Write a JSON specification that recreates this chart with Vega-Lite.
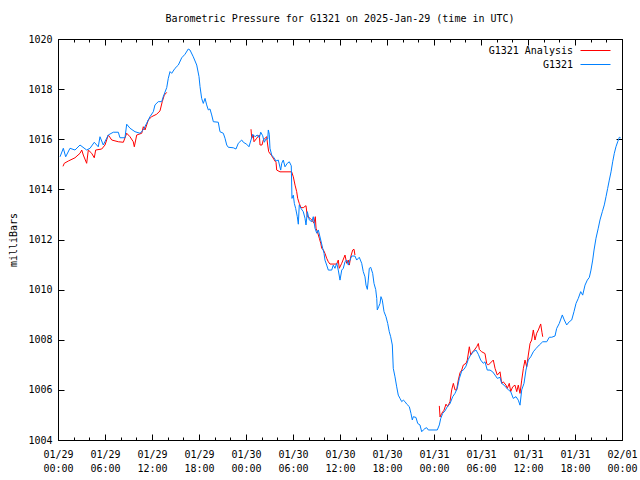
{
  "$schema": "https://vega.github.io/schema/vega-lite/v6.json",
  "width": 564,
  "height": 401,
  "autosize": {"type": "none"},
  "padding": {"left": 58, "top": 39, "right": 18, "bottom": 40},
  "background": "white",
  "title": {"text": "Barometric Pressure for G1321 on 2025-Jan-29 (time in UTC)", "font": "DejaVu Sans Mono", "fontSize": 10, "fontWeight": "normal", "color": "black", "anchor": "middle", "offset": 10},
  "config": {
    "view": {"stroke": "black", "strokeWidth": 1},
    "axis": {"grid": false, "domain": false, "tickColor": "black", "tickWidth": 1, "labelColor": "black", "labelFont": "DejaVu Sans Mono", "labelFontSize": 10, "titleFont": "DejaVu Sans Mono", "titleFontSize": 10, "titleFontWeight": "normal", "titleColor": "black"}
  },
  "data": {"values": [
    {"series":"G1321 Analysis","seg":"an1","t":0.64,"mb":1014.92},
    {"series":"G1321 Analysis","seg":"an1","t":0.80,"mb":1015.04},
    {"series":"G1321 Analysis","seg":"an1","t":1.31,"mb":1015.13},
    {"series":"G1321 Analysis","seg":"an1","t":2.17,"mb":1015.26},
    {"series":"G1321 Analysis","seg":"an1","t":2.81,"mb":1015.44},
    {"series":"G1321 Analysis","seg":"an1","t":3.03,"mb":1015.57},
    {"series":"G1321 Analysis","seg":"an1","t":3.23,"mb":1015.37},
    {"series":"G1321 Analysis","seg":"an1","t":3.66,"mb":1015.04},
    {"series":"G1321 Analysis","seg":"an1","t":3.87,"mb":1015.57},
    {"series":"G1321 Analysis","seg":"an1","t":4.30,"mb":1015.44},
    {"series":"G1321 Analysis","seg":"an1","t":4.63,"mb":1015.26},
    {"series":"G1321 Analysis","seg":"an1","t":4.81,"mb":1015.57},
    {"series":"G1321 Analysis","seg":"an1","t":5.58,"mb":1015.61},
    {"series":"G1321 Analysis","seg":"an1","t":6.00,"mb":1015.77},
    {"series":"G1321 Analysis","seg":"an1","t":6.42,"mb":1016.17},
    {"series":"G1321 Analysis","seg":"an1","t":6.86,"mb":1015.97},
    {"series":"G1321 Analysis","seg":"an1","t":7.70,"mb":1015.90},
    {"series":"G1321 Analysis","seg":"an1","t":8.34,"mb":1015.88},
    {"series":"G1321 Analysis","seg":"an1","t":8.77,"mb":1016.24},
    {"series":"G1321 Analysis","seg":"an1","t":9.19,"mb":1016.10},
    {"series":"G1321 Analysis","seg":"an1","t":9.61,"mb":1015.90},
    {"series":"G1321 Analysis","seg":"an1","t":9.74,"mb":1015.70},
    {"series":"G1321 Analysis","seg":"an1","t":10.05,"mb":1016.17},
    {"series":"G1321 Analysis","seg":"an1","t":10.69,"mb":1016.24},
    {"series":"G1321 Analysis","seg":"an1","t":10.89,"mb":1016.50},
    {"series":"G1321 Analysis","seg":"an1","t":11.11,"mb":1016.37},
    {"series":"G1321 Analysis","seg":"an1","t":11.53,"mb":1016.77},
    {"series":"G1321 Analysis","seg":"an1","t":11.96,"mb":1016.90},
    {"series":"G1321 Analysis","seg":"an1","t":12.60,"mb":1017.00},
    {"series":"G1321 Analysis","seg":"an1","t":13.02,"mb":1017.13},
    {"series":"G1321 Analysis","seg":"an1","t":13.31,"mb":1017.50},
    {"series":"G1321 Analysis","seg":"an1","t":13.57,"mb":1017.76},
    {"series":"G1321 Analysis","seg":"an1","t":13.88,"mb":1017.87},
    {"series":"G1321 Analysis","seg":"an2","t":24.64,"mb":1016.40},
    {"series":"G1321 Analysis","seg":"an2","t":24.73,"mb":1016.04},
    {"series":"G1321 Analysis","seg":"an2","t":24.93,"mb":1016.17},
    {"series":"G1321 Analysis","seg":"an2","t":25.02,"mb":1015.90},
    {"series":"G1321 Analysis","seg":"an2","t":25.37,"mb":1016.04},
    {"series":"G1321 Analysis","seg":"an2","t":25.70,"mb":1016.17},
    {"series":"G1321 Analysis","seg":"an2","t":25.79,"mb":1015.77},
    {"series":"G1321 Analysis","seg":"an2","t":26.04,"mb":1015.77},
    {"series":"G1321 Analysis","seg":"an2","t":26.21,"mb":1015.97},
    {"series":"G1321 Analysis","seg":"an2","t":26.64,"mb":1016.10},
    {"series":"G1321 Analysis","seg":"an2","t":26.77,"mb":1015.77},
    {"series":"G1321 Analysis","seg":"an2","t":26.90,"mb":1015.50},
    {"series":"G1321 Analysis","seg":"an2","t":27.28,"mb":1015.34},
    {"series":"G1321 Analysis","seg":"an2","t":27.70,"mb":1015.13},
    {"series":"G1321 Analysis","seg":"an2","t":27.83,"mb":1015.08},
    {"series":"G1321 Analysis","seg":"an2","t":27.92,"mb":1014.77},
    {"series":"G1321 Analysis","seg":"an2","t":28.34,"mb":1014.70},
    {"series":"G1321 Analysis","seg":"an2","t":29.83,"mb":1014.70},
    {"series":"G1321 Analysis","seg":"an2","t":30.04,"mb":1014.50},
    {"series":"G1321 Analysis","seg":"an2","t":30.26,"mb":1014.17},
    {"series":"G1321 Analysis","seg":"an2","t":30.47,"mb":1013.91},
    {"series":"G1321 Analysis","seg":"an2","t":30.60,"mb":1013.64},
    {"series":"G1321 Analysis","seg":"an2","t":30.80,"mb":1013.44},
    {"series":"G1321 Analysis","seg":"an2","t":31.02,"mb":1013.27},
    {"series":"G1321 Analysis","seg":"an2","t":31.31,"mb":1013.27},
    {"series":"G1321 Analysis","seg":"an2","t":31.66,"mb":1013.35},
    {"series":"G1321 Analysis","seg":"an2","t":31.83,"mb":1012.91},
    {"series":"G1321 Analysis","seg":"an2","t":32.17,"mb":1012.85},
    {"series":"G1321 Analysis","seg":"an2","t":32.39,"mb":1012.78},
    {"series":"G1321 Analysis","seg":"an2","t":32.68,"mb":1012.65},
    {"series":"G1321 Analysis","seg":"an2","t":32.85,"mb":1012.91},
    {"series":"G1321 Analysis","seg":"an2","t":32.94,"mb":1012.45},
    {"series":"G1321 Analysis","seg":"an2","t":33.11,"mb":1012.31},
    {"series":"G1321 Analysis","seg":"an2","t":33.36,"mb":1012.05},
    {"series":"G1321 Analysis","seg":"an2","t":33.54,"mb":1011.85},
    {"series":"G1321 Analysis","seg":"an2","t":33.67,"mb":1011.65},
    {"series":"G1321 Analysis","seg":"an2","t":33.88,"mb":1011.58},
    {"series":"G1321 Analysis","seg":"an2","t":34.08,"mb":1011.45},
    {"series":"G1321 Analysis","seg":"an2","t":34.30,"mb":1011.25},
    {"series":"G1321 Analysis","seg":"an2","t":34.51,"mb":1011.11},
    {"series":"G1321 Analysis","seg":"an2","t":34.72,"mb":1011.02},
    {"series":"G1321 Analysis","seg":"an2","t":35.58,"mb":1011.02},
    {"series":"G1321 Analysis","seg":"an2","t":35.78,"mb":1011.18},
    {"series":"G1321 Analysis","seg":"an2","t":35.91,"mb":1010.85},
    {"series":"G1321 Analysis","seg":"an2","t":36.22,"mb":1011.05},
    {"series":"G1321 Analysis","seg":"an2","t":36.64,"mb":1011.38},
    {"series":"G1321 Analysis","seg":"an2","t":36.85,"mb":1011.05},
    {"series":"G1321 Analysis","seg":"an2","t":37.06,"mb":1011.18},
    {"series":"G1321 Analysis","seg":"an2","t":37.19,"mb":1010.98},
    {"series":"G1321 Analysis","seg":"an2","t":37.37,"mb":1011.31},
    {"series":"G1321 Analysis","seg":"an2","t":37.62,"mb":1011.58},
    {"series":"G1321 Analysis","seg":"an2","t":37.79,"mb":1011.61},
    {"series":"G1321 Analysis","seg":"an2","t":37.91,"mb":1011.38},
    {"series":"G1321 Analysis","seg":"an3","t":48.68,"mb":1005.36},
    {"series":"G1321 Analysis","seg":"an3","t":48.77,"mb":1004.92},
    {"series":"G1321 Analysis","seg":"an3","t":48.98,"mb":1005.06},
    {"series":"G1321 Analysis","seg":"an3","t":49.28,"mb":1005.19},
    {"series":"G1321 Analysis","seg":"an3","t":49.53,"mb":1005.43},
    {"series":"G1321 Analysis","seg":"an3","t":49.75,"mb":1005.33},
    {"series":"G1321 Analysis","seg":"an3","t":50.04,"mb":1005.53},
    {"series":"G1321 Analysis","seg":"an3","t":50.26,"mb":1006.00},
    {"series":"G1321 Analysis","seg":"an3","t":50.47,"mb":1006.26},
    {"series":"G1321 Analysis","seg":"an3","t":50.68,"mb":1006.00},
    {"series":"G1321 Analysis","seg":"an3","t":50.89,"mb":1006.00},
    {"series":"G1321 Analysis","seg":"an3","t":51.10,"mb":1006.39},
    {"series":"G1321 Analysis","seg":"an3","t":51.32,"mb":1006.68},
    {"series":"G1321 Analysis","seg":"an3","t":51.54,"mb":1006.79},
    {"series":"G1321 Analysis","seg":"an3","t":51.74,"mb":1006.99},
    {"series":"G1321 Analysis","seg":"an3","t":52.09,"mb":1007.06},
    {"series":"G1321 Analysis","seg":"an3","t":52.25,"mb":1007.19},
    {"series":"G1321 Analysis","seg":"an3","t":52.51,"mb":1007.72},
    {"series":"G1321 Analysis","seg":"an3","t":52.69,"mb":1007.39},
    {"series":"G1321 Analysis","seg":"an3","t":52.94,"mb":1007.52},
    {"series":"G1321 Analysis","seg":"an3","t":53.15,"mb":1007.59},
    {"series":"G1321 Analysis","seg":"an3","t":53.45,"mb":1007.72},
    {"series":"G1321 Analysis","seg":"an3","t":53.66,"mb":1007.85},
    {"series":"G1321 Analysis","seg":"an3","t":53.79,"mb":1007.61},
    {"series":"G1321 Analysis","seg":"an3","t":54.09,"mb":1007.52},
    {"series":"G1321 Analysis","seg":"an3","t":54.51,"mb":1007.45},
    {"series":"G1321 Analysis","seg":"an3","t":54.72,"mb":1007.06},
    {"series":"G1321 Analysis","seg":"an3","t":54.93,"mb":1006.99},
    {"series":"G1321 Analysis","seg":"an3","t":55.57,"mb":1007.19},
    {"series":"G1321 Analysis","seg":"an3","t":55.79,"mb":1006.86},
    {"series":"G1321 Analysis","seg":"an3","t":56.08,"mb":1006.59},
    {"series":"G1321 Analysis","seg":"an3","t":56.43,"mb":1006.72},
    {"series":"G1321 Analysis","seg":"an3","t":56.64,"mb":1006.26},
    {"series":"G1321 Analysis","seg":"an3","t":56.85,"mb":1006.32},
    {"series":"G1321 Analysis","seg":"an3","t":57.19,"mb":1006.19},
    {"series":"G1321 Analysis","seg":"an3","t":57.36,"mb":1006.06},
    {"series":"G1321 Analysis","seg":"an3","t":57.61,"mb":1006.26},
    {"series":"G1321 Analysis","seg":"an3","t":57.79,"mb":1005.93},
    {"series":"G1321 Analysis","seg":"an3","t":58.04,"mb":1006.12},
    {"series":"G1321 Analysis","seg":"an3","t":58.34,"mb":1006.19},
    {"series":"G1321 Analysis","seg":"an3","t":58.56,"mb":1005.93},
    {"series":"G1321 Analysis","seg":"an3","t":58.76,"mb":1006.19},
    {"series":"G1321 Analysis","seg":"an3","t":58.98,"mb":1005.86},
    {"series":"G1321 Analysis","seg":"an3","t":59.20,"mb":1006.39},
    {"series":"G1321 Analysis","seg":"an3","t":59.41,"mb":1006.86},
    {"series":"G1321 Analysis","seg":"an3","t":59.62,"mb":1007.19},
    {"series":"G1321 Analysis","seg":"an3","t":59.83,"mb":1006.92},
    {"series":"G1321 Analysis","seg":"an3","t":60.04,"mb":1007.39},
    {"series":"G1321 Analysis","seg":"an3","t":60.26,"mb":1007.85},
    {"series":"G1321 Analysis","seg":"an3","t":60.47,"mb":1007.99},
    {"series":"G1321 Analysis","seg":"an3","t":60.68,"mb":1008.39},
    {"series":"G1321 Analysis","seg":"an3","t":60.89,"mb":1007.99},
    {"series":"G1321 Analysis","seg":"an3","t":61.11,"mb":1008.26},
    {"series":"G1321 Analysis","seg":"an3","t":61.32,"mb":1008.39},
    {"series":"G1321 Analysis","seg":"an3","t":61.62,"mb":1008.63},
    {"series":"G1321 Analysis","seg":"an3","t":61.79,"mb":1008.28},
    {"series":"G1321 Analysis","seg":"an3","t":61.88,"mb":1008.12},
    {"series":"G1321","seg":"obs","t":0.26,"mb":1015.30},
    {"series":"G1321","seg":"obs","t":0.68,"mb":1015.64},
    {"series":"G1321","seg":"obs","t":0.98,"mb":1015.30},
    {"series":"G1321","seg":"obs","t":1.53,"mb":1015.64},
    {"series":"G1321","seg":"obs","t":2.17,"mb":1015.57},
    {"series":"G1321","seg":"obs","t":2.81,"mb":1015.77},
    {"series":"G1321","seg":"obs","t":3.66,"mb":1015.57},
    {"series":"G1321","seg":"obs","t":4.09,"mb":1015.64},
    {"series":"G1321","seg":"obs","t":4.63,"mb":1015.88},
    {"series":"G1321","seg":"obs","t":5.14,"mb":1015.70},
    {"series":"G1321","seg":"obs","t":5.36,"mb":1016.10},
    {"series":"G1321","seg":"obs","t":5.78,"mb":1015.77},
    {"series":"G1321","seg":"obs","t":6.42,"mb":1016.17},
    {"series":"G1321","seg":"obs","t":7.06,"mb":1016.28},
    {"series":"G1321","seg":"obs","t":7.70,"mb":1016.28},
    {"series":"G1321","seg":"obs","t":7.91,"mb":1016.06},
    {"series":"G1321","seg":"obs","t":8.55,"mb":1016.06},
    {"series":"G1321","seg":"obs","t":8.77,"mb":1016.60},
    {"series":"G1321","seg":"obs","t":9.19,"mb":1016.44},
    {"series":"G1321","seg":"obs","t":9.83,"mb":1016.30},
    {"series":"G1321","seg":"obs","t":10.47,"mb":1016.24},
    {"series":"G1321","seg":"obs","t":10.89,"mb":1016.37},
    {"series":"G1321","seg":"obs","t":11.32,"mb":1016.64},
    {"series":"G1321","seg":"obs","t":11.74,"mb":1016.90},
    {"series":"G1321","seg":"obs","t":12.17,"mb":1017.10},
    {"series":"G1321","seg":"obs","t":12.38,"mb":1017.37},
    {"series":"G1321","seg":"obs","t":12.80,"mb":1017.50},
    {"series":"G1321","seg":"obs","t":13.24,"mb":1017.50},
    {"series":"G1321","seg":"obs","t":13.44,"mb":1017.70},
    {"series":"G1321","seg":"obs","t":13.88,"mb":1018.06},
    {"series":"G1321","seg":"obs","t":14.08,"mb":1018.43},
    {"series":"G1321","seg":"obs","t":14.30,"mb":1018.70},
    {"series":"G1321","seg":"obs","t":14.51,"mb":1018.63},
    {"series":"G1321","seg":"obs","t":14.94,"mb":1018.83},
    {"series":"G1321","seg":"obs","t":15.36,"mb":1018.96},
    {"series":"G1321","seg":"obs","t":15.79,"mb":1019.25},
    {"series":"G1321","seg":"obs","t":16.21,"mb":1019.39},
    {"series":"G1321","seg":"obs","t":16.63,"mb":1019.60},
    {"series":"G1321","seg":"obs","t":16.85,"mb":1019.56},
    {"series":"G1321","seg":"obs","t":17.27,"mb":1019.29},
    {"series":"G1321","seg":"obs","t":17.71,"mb":1018.96},
    {"series":"G1321","seg":"obs","t":18.00,"mb":1018.50},
    {"series":"G1321","seg":"obs","t":18.13,"mb":1018.10},
    {"series":"G1321","seg":"obs","t":18.34,"mb":1017.63},
    {"series":"G1321","seg":"obs","t":18.55,"mb":1017.43},
    {"series":"G1321","seg":"obs","t":18.77,"mb":1017.63},
    {"series":"G1321","seg":"obs","t":18.98,"mb":1017.37},
    {"series":"G1321","seg":"obs","t":19.19,"mb":1017.17},
    {"series":"G1321","seg":"obs","t":19.40,"mb":1017.21},
    {"series":"G1321","seg":"obs","t":19.62,"mb":1016.97},
    {"series":"G1321","seg":"obs","t":19.83,"mb":1016.70},
    {"series":"G1321","seg":"obs","t":20.46,"mb":1016.68},
    {"series":"G1321","seg":"obs","t":20.68,"mb":1016.30},
    {"series":"G1321","seg":"obs","t":21.10,"mb":1016.24},
    {"series":"G1321","seg":"obs","t":21.32,"mb":1016.04},
    {"series":"G1321","seg":"obs","t":21.54,"mb":1015.77},
    {"series":"G1321","seg":"obs","t":21.74,"mb":1015.68},
    {"series":"G1321","seg":"obs","t":22.38,"mb":1015.66},
    {"series":"G1321","seg":"obs","t":22.72,"mb":1015.61},
    {"series":"G1321","seg":"obs","t":23.02,"mb":1015.84},
    {"series":"G1321","seg":"obs","t":23.45,"mb":1015.97},
    {"series":"G1321","seg":"obs","t":23.66,"mb":1015.88},
    {"series":"G1321","seg":"obs","t":24.09,"mb":1015.80},
    {"series":"G1321","seg":"obs","t":24.38,"mb":1015.70},
    {"series":"G1321","seg":"obs","t":24.60,"mb":1015.93},
    {"series":"G1321","seg":"obs","t":24.86,"mb":1016.20},
    {"series":"G1321","seg":"obs","t":25.15,"mb":1016.10},
    {"series":"G1321","seg":"obs","t":25.44,"mb":1016.17},
    {"series":"G1321","seg":"obs","t":25.70,"mb":1016.06},
    {"series":"G1321","seg":"obs","t":25.88,"mb":1016.28},
    {"series":"G1321","seg":"obs","t":26.13,"mb":1016.14},
    {"series":"G1321","seg":"obs","t":26.34,"mb":1015.88},
    {"series":"G1321","seg":"obs","t":26.55,"mb":1016.01},
    {"series":"G1321","seg":"obs","t":26.77,"mb":1016.01},
    {"series":"G1321","seg":"obs","t":26.85,"mb":1016.37},
    {"series":"G1321","seg":"obs","t":26.97,"mb":1016.20},
    {"series":"G1321","seg":"obs","t":27.06,"mb":1015.64},
    {"series":"G1321","seg":"obs","t":27.28,"mb":1015.37},
    {"series":"G1321","seg":"obs","t":27.57,"mb":1015.26},
    {"series":"G1321","seg":"obs","t":27.83,"mb":1015.13},
    {"series":"G1321","seg":"obs","t":28.12,"mb":1015.17},
    {"series":"G1321","seg":"obs","t":28.43,"mb":1014.77},
    {"series":"G1321","seg":"obs","t":28.56,"mb":1015.04},
    {"series":"G1321","seg":"obs","t":28.76,"mb":1015.17},
    {"series":"G1321","seg":"obs","t":28.98,"mb":1014.90},
    {"series":"G1321","seg":"obs","t":29.27,"mb":1015.04},
    {"series":"G1321","seg":"obs","t":29.53,"mb":1015.10},
    {"series":"G1321","seg":"obs","t":29.78,"mb":1014.94},
    {"series":"G1321","seg":"obs","t":29.87,"mb":1013.64},
    {"series":"G1321","seg":"obs","t":30.04,"mb":1013.77},
    {"series":"G1321","seg":"obs","t":30.17,"mb":1013.44},
    {"series":"G1321","seg":"obs","t":30.34,"mb":1013.24},
    {"series":"G1321","seg":"obs","t":30.55,"mb":1012.91},
    {"series":"G1321","seg":"obs","t":30.68,"mb":1012.61},
    {"series":"G1321","seg":"obs","t":30.80,"mb":1013.38},
    {"series":"G1321","seg":"obs","t":31.02,"mb":1013.24},
    {"series":"G1321","seg":"obs","t":31.31,"mb":1013.11},
    {"series":"G1321","seg":"obs","t":31.53,"mb":1012.85},
    {"series":"G1321","seg":"obs","t":31.66,"mb":1012.58},
    {"series":"G1321","seg":"obs","t":31.83,"mb":1013.11},
    {"series":"G1321","seg":"obs","t":32.08,"mb":1012.78},
    {"series":"G1321","seg":"obs","t":32.39,"mb":1012.71},
    {"series":"G1321","seg":"obs","t":32.59,"mb":1012.91},
    {"series":"G1321","seg":"obs","t":32.81,"mb":1012.45},
    {"series":"G1321","seg":"obs","t":33.03,"mb":1012.25},
    {"series":"G1321","seg":"obs","t":33.23,"mb":1012.38},
    {"series":"G1321","seg":"obs","t":33.54,"mb":1011.98},
    {"series":"G1321","seg":"obs","t":33.79,"mb":1011.65},
    {"series":"G1321","seg":"obs","t":33.96,"mb":1011.45},
    {"series":"G1321","seg":"obs","t":34.08,"mb":1011.18},
    {"series":"G1321","seg":"obs","t":34.30,"mb":1010.98},
    {"series":"G1321","seg":"obs","t":34.51,"mb":1010.78},
    {"series":"G1321","seg":"obs","t":34.94,"mb":1010.78},
    {"series":"G1321","seg":"obs","t":35.14,"mb":1010.98},
    {"series":"G1321","seg":"obs","t":35.36,"mb":1010.85},
    {"series":"G1321","seg":"obs","t":35.58,"mb":1011.05},
    {"series":"G1321","seg":"obs","t":35.78,"mb":1010.78},
    {"series":"G1321","seg":"obs","t":36.00,"mb":1010.38},
    {"series":"G1321","seg":"obs","t":36.22,"mb":1010.78},
    {"series":"G1321","seg":"obs","t":36.42,"mb":1010.85},
    {"series":"G1321","seg":"obs","t":36.64,"mb":1011.11},
    {"series":"G1321","seg":"obs","t":36.85,"mb":1011.18},
    {"series":"G1321","seg":"obs","t":37.06,"mb":1010.98},
    {"series":"G1321","seg":"obs","t":37.28,"mb":1011.18},
    {"series":"G1321","seg":"obs","t":37.49,"mb":1011.34},
    {"series":"G1321","seg":"obs","t":37.91,"mb":1011.34},
    {"series":"G1321","seg":"obs","t":38.13,"mb":1011.18},
    {"series":"G1321","seg":"obs","t":38.46,"mb":1011.29},
    {"series":"G1321","seg":"obs","t":38.77,"mb":1011.05},
    {"series":"G1321","seg":"obs","t":38.97,"mb":1010.72},
    {"series":"G1321","seg":"obs","t":39.19,"mb":1010.51},
    {"series":"G1321","seg":"obs","t":39.32,"mb":1010.18},
    {"series":"G1321","seg":"obs","t":39.49,"mb":1010.01},
    {"series":"G1321","seg":"obs","t":39.61,"mb":1010.38},
    {"series":"G1321","seg":"obs","t":39.74,"mb":1010.85},
    {"series":"G1321","seg":"obs","t":39.92,"mb":1010.89},
    {"series":"G1321","seg":"obs","t":40.17,"mb":1010.65},
    {"series":"G1321","seg":"obs","t":40.34,"mb":1010.25},
    {"series":"G1321","seg":"obs","t":40.56,"mb":1010.00},
    {"series":"G1321","seg":"obs","t":40.69,"mb":1009.65},
    {"series":"G1321","seg":"obs","t":40.76,"mb":1009.19},
    {"series":"G1321","seg":"obs","t":40.94,"mb":1009.32},
    {"series":"G1321","seg":"obs","t":41.11,"mb":1009.45},
    {"series":"G1321","seg":"obs","t":41.23,"mb":1009.72},
    {"series":"G1321","seg":"obs","t":41.40,"mb":1009.58},
    {"series":"G1321","seg":"obs","t":41.62,"mb":1009.12},
    {"series":"G1321","seg":"obs","t":41.87,"mb":1008.92},
    {"series":"G1321","seg":"obs","t":42.09,"mb":1008.65},
    {"series":"G1321","seg":"obs","t":42.29,"mb":1008.32},
    {"series":"G1321","seg":"obs","t":42.47,"mb":1008.12},
    {"series":"G1321","seg":"obs","t":42.68,"mb":1007.79},
    {"series":"G1321","seg":"obs","t":42.80,"mb":1006.86},
    {"series":"G1321","seg":"obs","t":43.02,"mb":1006.52},
    {"series":"G1321","seg":"obs","t":43.24,"mb":1006.12},
    {"series":"G1321","seg":"obs","t":43.44,"mb":1005.79},
    {"series":"G1321","seg":"obs","t":43.66,"mb":1005.66},
    {"series":"G1321","seg":"obs","t":43.88,"mb":1005.53},
    {"series":"G1321","seg":"obs","t":44.08,"mb":1005.59},
    {"series":"G1321","seg":"obs","t":44.30,"mb":1005.53},
    {"series":"G1321","seg":"obs","t":44.52,"mb":1005.43},
    {"series":"G1321","seg":"obs","t":44.85,"mb":1005.33},
    {"series":"G1321","seg":"obs","t":45.06,"mb":1005.06},
    {"series":"G1321","seg":"obs","t":45.23,"mb":1004.80},
    {"series":"G1321","seg":"obs","t":45.36,"mb":1004.93},
    {"series":"G1321","seg":"obs","t":45.70,"mb":1004.90},
    {"series":"G1321","seg":"obs","t":45.92,"mb":1004.66},
    {"series":"G1321","seg":"obs","t":46.21,"mb":1004.60},
    {"series":"G1321","seg":"obs","t":46.43,"mb":1004.33},
    {"series":"G1321","seg":"obs","t":46.63,"mb":1004.40},
    {"series":"G1321","seg":"obs","t":46.85,"mb":1004.46},
    {"series":"G1321","seg":"obs","t":47.07,"mb":1004.49},
    {"series":"G1321","seg":"obs","t":47.27,"mb":1004.40},
    {"series":"G1321","seg":"obs","t":48.42,"mb":1004.40},
    {"series":"G1321","seg":"obs","t":48.68,"mb":1004.60},
    {"series":"G1321","seg":"obs","t":48.86,"mb":1004.86},
    {"series":"G1321","seg":"obs","t":49.11,"mb":1005.06},
    {"series":"G1321","seg":"obs","t":49.40,"mb":1005.16},
    {"series":"G1321","seg":"obs","t":49.70,"mb":1005.33},
    {"series":"G1321","seg":"obs","t":50.04,"mb":1005.45},
    {"series":"G1321","seg":"obs","t":50.39,"mb":1005.73},
    {"series":"G1321","seg":"obs","t":50.68,"mb":1005.86},
    {"series":"G1321","seg":"obs","t":50.97,"mb":1006.06},
    {"series":"G1321","seg":"obs","t":51.23,"mb":1006.45},
    {"series":"G1321","seg":"obs","t":51.54,"mb":1006.75},
    {"series":"G1321","seg":"obs","t":51.83,"mb":1006.82},
    {"series":"G1321","seg":"obs","t":52.09,"mb":1006.95},
    {"series":"G1321","seg":"obs","t":52.38,"mb":1007.22},
    {"series":"G1321","seg":"obs","t":52.69,"mb":1007.40},
    {"series":"G1321","seg":"obs","t":53.02,"mb":1007.52},
    {"series":"G1321","seg":"obs","t":53.36,"mb":1007.59},
    {"series":"G1321","seg":"obs","t":53.66,"mb":1007.42},
    {"series":"G1321","seg":"obs","t":53.96,"mb":1007.19},
    {"series":"G1321","seg":"obs","t":54.29,"mb":1007.06},
    {"series":"G1321","seg":"obs","t":54.51,"mb":1007.12},
    {"series":"G1321","seg":"obs","t":54.80,"mb":1006.79},
    {"series":"G1321","seg":"obs","t":55.15,"mb":1006.79},
    {"series":"G1321","seg":"obs","t":55.49,"mb":1006.72},
    {"series":"G1321","seg":"obs","t":55.79,"mb":1006.59},
    {"series":"G1321","seg":"obs","t":56.08,"mb":1006.46},
    {"series":"G1321","seg":"obs","t":56.43,"mb":1006.50},
    {"series":"G1321","seg":"obs","t":56.64,"mb":1006.26},
    {"series":"G1321","seg":"obs","t":56.94,"mb":1006.19},
    {"series":"G1321","seg":"obs","t":57.19,"mb":1006.10},
    {"series":"G1321","seg":"obs","t":57.49,"mb":1006.00},
    {"series":"G1321","seg":"obs","t":57.79,"mb":1005.93},
    {"series":"G1321","seg":"obs","t":58.12,"mb":1005.66},
    {"series":"G1321","seg":"obs","t":58.47,"mb":1005.73},
    {"series":"G1321","seg":"obs","t":58.76,"mb":1005.59},
    {"series":"G1321","seg":"obs","t":58.98,"mb":1005.39},
    {"series":"G1321","seg":"obs","t":59.20,"mb":1006.00},
    {"series":"G1321","seg":"obs","t":59.49,"mb":1006.26},
    {"series":"G1321","seg":"obs","t":59.74,"mb":1006.79},
    {"series":"G1321","seg":"obs","t":60.04,"mb":1007.19},
    {"series":"G1321","seg":"obs","t":60.35,"mb":1007.32},
    {"series":"G1321","seg":"obs","t":60.68,"mb":1007.52},
    {"series":"G1321","seg":"obs","t":61.02,"mb":1007.65},
    {"series":"G1321","seg":"obs","t":61.44,"mb":1007.79},
    {"series":"G1321","seg":"obs","t":61.88,"mb":1007.92},
    {"series":"G1321","seg":"obs","t":62.39,"mb":1007.92},
    {"series":"G1321","seg":"obs","t":62.72,"mb":1008.10},
    {"series":"G1321","seg":"obs","t":63.03,"mb":1008.10},
    {"series":"G1321","seg":"obs","t":63.45,"mb":1008.15},
    {"series":"G1321","seg":"obs","t":63.66,"mb":1008.45},
    {"series":"G1321","seg":"obs","t":63.99,"mb":1008.65},
    {"series":"G1321","seg":"obs","t":64.38,"mb":1008.99},
    {"series":"G1321","seg":"obs","t":64.63,"mb":1008.79},
    {"series":"G1321","seg":"obs","t":64.94,"mb":1008.59},
    {"series":"G1321","seg":"obs","t":65.27,"mb":1008.72},
    {"series":"G1321","seg":"obs","t":65.58,"mb":1008.79},
    {"series":"G1321","seg":"obs","t":65.87,"mb":1009.12},
    {"series":"G1321","seg":"obs","t":66.13,"mb":1009.45},
    {"series":"G1321","seg":"obs","t":66.42,"mb":1009.65},
    {"series":"G1321","seg":"obs","t":66.73,"mb":1009.92},
    {"series":"G1321","seg":"obs","t":66.98,"mb":1009.78},
    {"series":"G1321","seg":"obs","t":67.28,"mb":1010.18},
    {"series":"G1321","seg":"obs","t":67.57,"mb":1010.38},
    {"series":"G1321","seg":"obs","t":67.83,"mb":1010.49},
    {"series":"G1321","seg":"obs","t":68.04,"mb":1010.78},
    {"series":"G1321","seg":"obs","t":68.26,"mb":1011.18},
    {"series":"G1321","seg":"obs","t":68.43,"mb":1011.58},
    {"series":"G1321","seg":"obs","t":68.68,"mb":1012.05},
    {"series":"G1321","seg":"obs","t":68.97,"mb":1012.45},
    {"series":"G1321","seg":"obs","t":69.19,"mb":1012.78},
    {"series":"G1321","seg":"obs","t":69.49,"mb":1013.11},
    {"series":"G1321","seg":"obs","t":69.74,"mb":1013.38},
    {"series":"G1321","seg":"obs","t":69.96,"mb":1013.71},
    {"series":"G1321","seg":"obs","t":70.17,"mb":1014.04},
    {"series":"G1321","seg":"obs","t":70.38,"mb":1014.37},
    {"series":"G1321","seg":"obs","t":70.60,"mb":1014.70},
    {"series":"G1321","seg":"obs","t":70.81,"mb":1015.10},
    {"series":"G1321","seg":"obs","t":71.02,"mb":1015.44},
    {"series":"G1321","seg":"obs","t":71.23,"mb":1015.70},
    {"series":"G1321","seg":"obs","t":71.45,"mb":1015.90},
    {"series":"G1321","seg":"obs","t":71.66,"mb":1016.08},
    {"series":"G1321","seg":"obs","t":71.84,"mb":1016.05}
  ]},
  "layer": [
    {
      "mark": {"type": "line", "strokeWidth": 1},
      "encoding": {
        "x": {"field": "t", "type": "quantitative", "scale": {"domain": [0, 72], "nice": false, "zero": false},
          "axis": {"orient": "bottom", "title": null, "values": [0,6,12,18,24,30,36,42,48,54,60,66,72], "tickSize": -6, "labelPadding": 15, "labelLineHeight": 14, "labelOverlap": false, "labelFlush": false, "labelAngle": 0,
            "labelExpr": "[utcFormat(utc(2025,0,29) + datum.value*3600000, '%m/%d'), utcFormat(utc(2025,0,29) + datum.value*3600000, '%H:%M')]"}},
        "y": {"field": "mb", "type": "quantitative", "scale": {"domain": [1004, 1020], "nice": false, "zero": false},
          "axis": {"orient": "left", "title": "milliBars", "format": "d", "values": [1004,1006,1008,1010,1012,1014,1016,1018,1020], "tickSize": -6, "labelPadding": 12, "titlePadding": 9, "labelOverlap": false, "labelFlush": false}},
        "color": {"field": "series", "type": "nominal",
          "scale": {"domain": ["G1321 Analysis", "G1321"], "range": ["#ff0000", "#0080ff"]},
          "legend": {"orient": "none", "legendX": 532, "legendY": 6, "title": null, "symbolType": "M-3,0H3", "symbolSize": 100, "symbolStrokeWidth": 1, "labelAlign": "right", "labelOffset": -28, "labelFont": "DejaVu Sans Mono", "labelFontSize": 10, "labelColor": "black", "padding": 0, "rowPadding": 3}},
        "detail": {"field": "seg", "type": "nominal"}
      }
    },
    {
      "mark": {"type": "line", "opacity": 0},
      "encoding": {
        "x": {"field": "t", "type": "quantitative", "axis": {"orient": "bottom", "title": null, "labels": false, "tickSize": -3, "values": [0,2,4,6,8,10,12,14,16,18,20,22,24,26,28,30,32,34,36,38,40,42,44,46,48,50,52,54,56,58,60,62,64,66,68,70,72]}},
        "y": {"field": "mb", "type": "quantitative", "axis": {"orient": "right", "title": null, "labels": false, "tickSize": -6, "values": [1004,1006,1008,1010,1012,1014,1016,1018,1020]}}
      }
    },
    {
      "mark": {"type": "line", "opacity": 0},
      "encoding": {
        "x": {"field": "t", "type": "quantitative", "axis": {"orient": "top", "title": null, "labels": false, "tickSize": -6, "values": [0,6,12,18,24,30,36,42,48,54,60,66,72]}},
        "y": {"field": "mb", "type": "quantitative", "axis": null}
      }
    },
    {
      "mark": {"type": "line", "opacity": 0},
      "encoding": {
        "x": {"field": "t", "type": "quantitative", "axis": {"orient": "top", "title": null, "labels": false, "tickSize": -3, "values": [0,2,4,6,8,10,12,14,16,18,20,22,24,26,28,30,32,34,36,38,40,42,44,46,48,50,52,54,56,58,60,62,64,66,68,70,72]}},
        "y": {"field": "mb", "type": "quantitative", "axis": null}
      }
    }
  ],
  "resolve": {"axis": {"x": "independent", "y": "independent"}}
}
